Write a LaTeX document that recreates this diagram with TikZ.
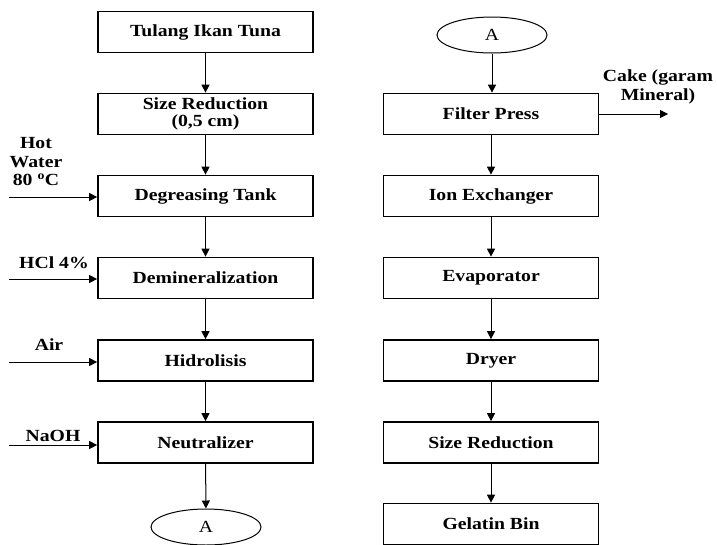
\documentclass[tikz,border=0pt]{standalone}
\usepackage{fontspec}
\setmainfont[FakeStretch=1.16]{Liberation Serif}
\usetikzlibrary{arrows.meta,shapes.geometric}

\begin{document}
\begin{tikzpicture}[x=1pt,y=-1pt,
  proc/.style={draw,line width=1.7pt,minimum width=215pt,minimum height=41pt,
    inner sep=0pt,align=center,font=\fontsize{17}{16.5}\selectfont\bfseries},
  conn/.style={ellipse,draw,line width=1pt,minimum width=110pt,minimum height=36pt,
    inner sep=0pt,font=\fontsize{17}{18}\selectfont},
  flow/.style={-{Triangle[length=8pt,width=8pt]},line width=1pt},
  lbl/.style={inner sep=0pt,align=center,font=\fontsize{17}{18.5}\selectfont\bfseries}]

\fill[white] (0,0) rectangle (717,544);
\useasboundingbox (0,0) rectangle (717,544);

% left column
\node[proc] (tul) at (205.5,32)    {Tulang Ikan Tuna};
\node[proc] (sr1) at (205.5,114)   {Size Reduction\\(0,5 cm)};
\node[proc] (deg) at (205.5,196)   {Degreasing Tank};
\node[proc] (dem) at (205.5,278)   {Demineralization};
\node[proc] (hid) at (205.5,360.5) {Hidrolisis};
\node[proc] (neu) at (205.5,442.5) {Neutralizer};
\node[conn] (aout) at (206,527)    {A};

\draw[flow] (tul) -- (sr1);
\draw[flow] (sr1) -- (deg);
\draw[flow] (deg) -- (dem);
\draw[flow] (dem) -- (hid);
\draw[flow] (hid) -- (neu);
\draw[flow] (neu) -- (aout);

% feed streams
\node[lbl] (hot)  at (36,162) {Hot\\Water\\80 \textsuperscript{o}C};
\node[lbl] (hcl)  at (54,263) {HCl 4\%};
\node[lbl] (air)  at (49,345) {Air};
\node[lbl] (naoh) at (53,436) {NaOH};

\coordinate (inHot)  at (9,197);
\coordinate (inHcl)  at (9,279);
\coordinate (inAir)  at (9,362);
\coordinate (inNaoh) at (9,445);
\draw[flow] (inHot)  -- (inHot -| deg.west);
\draw[flow] (inHcl)  -- (inHcl -| dem.west);
\draw[flow] (inAir)  -- (inAir -| hid.west);
\draw[flow] (inNaoh) -- (inNaoh -| neu.west);

% right column
\node[conn] (ain) at (492,35)    {A};
\node[proc] (fp)  at (491,114)   {Filter Press};
\node[proc] (ion) at (491,196)   {Ion Exchanger};
\node[proc] (eva) at (491,278)   {Evaporator};
\node[proc] (dry) at (491,360.5) {Dryer};
\node[proc] (sr2) at (491,442.5) {Size Reduction};
\node[proc] (gel) at (491,524)   {Gelatin Bin};

\draw[flow] (ain) -- (ain |- fp.north);
\draw[flow] (fp) -- (ion);
\draw[flow] (ion) -- (eva);
\draw[flow] (eva) -- (dry);
\draw[flow] (dry) -- (sr2);
\draw[flow] (sr2) -- (gel);

% filter cake outlet
\node[lbl] (cake) at (658,87) {Cake (garam\\Mineral)};
\coordinate (cakeEnd) at (668,114);
\draw[flow] (fp.east) -- (cakeEnd);
\end{tikzpicture}
\end{document}
